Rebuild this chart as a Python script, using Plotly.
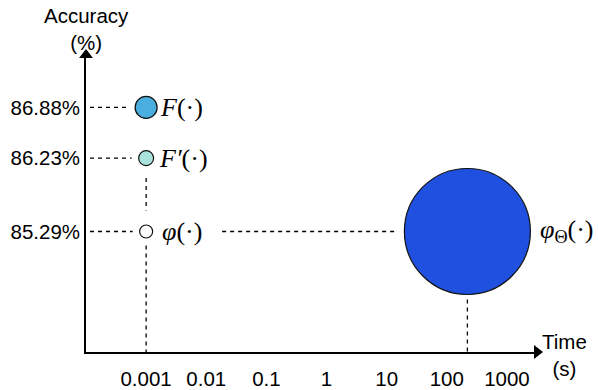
import numpy as np
import plotly.graph_objects as go

# ---- data ----
methods = ["F", "F'", "phi", "phi_Theta"]
method_labels = ["<i>F</i>(·)", "<i>F′</i>(·)", "<i>φ</i>(·)", "<i>φ</i><sub>Θ</sub>(·)"]
time_s = [0.001, 0.001, 0.001, 220]
accuracy = [86.88, 86.23, 85.29, 85.29]
x_tick_vals = [0.001, 0.01, 0.1, 1, 10, 100, 1000]
x_tick_text = ["0.001", "0.01", "0.1", "1", "10", "100", "1000"]
y_tick_vals = [86.88, 86.23, 85.29]
y_tick_text = ["86.88%", "86.23%", "85.29%"]

# ---- style ----
marker_size = [22, 15, 13, 126]
marker_color = ["#4aaee0", "#a8e4dc", "#ffffff", "#1f50e0"]
label_gap = [1, 3, 7, 8]

W, H = 598, 390
ML, MR, MT, MB = 86, 61, 55, 38
x_range = [-4.0, 3.5]
y_range = [83.746, 87.551]
pw = W - ML - MR
ph = H - MT - MB
px_dec = pw / (x_range[1] - x_range[0])
px_pct = ph / (y_range[1] - y_range[0])

def xs(v, dpx):
    return 10 ** (np.log10(v) + dpx / px_dec)

def ys(v, dpx):
    return v + dpx / px_pct

fig = go.Figure()
dash_style = dict(color="black", width=1.3, dash="4px,4px")

def guide(x, y):
    fig.add_trace(go.Scatter(x=x, y=y, mode="lines", line=dash_style,
                             hoverinfo="skip", showlegend=False))

x_axis_left = 10 ** x_range[0]
# horizontal guides from the y axis to the three small markers
for i in range(3):
    guide([xs(x_axis_left, 4), xs(time_s[i], -(marker_size[i] / 2 + 7))],
          [accuracy[i], accuracy[i]])
# vertical guide between F' and phi
guide([time_s[1], time_s[2]], [ys(accuracy[1], -20), ys(accuracy[2], 21)])
# vertical guide below phi
guide([time_s[2], time_s[2]], [ys(accuracy[2], -14), y_range[0]])
# horizontal guide from phi label to phi_Theta
guide([xs(time_s[2], 76), xs(time_s[3], -(marker_size[3] / 2 + 7))],
      [accuracy[2], accuracy[3]])
# vertical guide below phi_Theta
guide([time_s[3], time_s[3]], [ys(accuracy[3], -(marker_size[3] / 2 + 5)), y_range[0]])

fig.add_trace(go.Scatter(
    x=time_s, y=accuracy, mode="markers",
    marker=dict(size=marker_size, color=marker_color,
                line=dict(color="#111111", width=1.2), opacity=1),
    hoverinfo="skip", showlegend=False, cliponaxis=False))

# axis arrowheads at the ends of the axis ranges
fig.add_trace(go.Scatter(
    x=[10 ** x_range[1], 10 ** x_range[0]], y=[y_range[0], y_range[1]], mode="markers",
    marker=dict(symbol=["triangle-right", "triangle-up"], size=12, color="black",
                line=dict(width=0)),
    hoverinfo="skip", showlegend=False, cliponaxis=False))

for i in range(4):
    fig.add_annotation(x=np.log10(time_s[i]), y=accuracy[i], text=method_labels[i],
                       showarrow=False, xanchor="left", yanchor="middle",
                       xshift=marker_size[i] / 2 + label_gap[i],
                       font=dict(family="Liberation Serif", size=26, color="black"))

sans = dict(family="Liberation Sans", size=20.5, color="black")

# axis titles
fig.add_annotation(x=0, y=1, xref="paper", yref="paper", text="Accuracy<br>(%)",
                   showarrow=False, xanchor="center", yanchor="middle", yshift=26,
                   font=sans)
fig.add_annotation(x=1, y=0, xref="paper", yref="paper", text="Time<br>(s)",
                   showarrow=False, xanchor="left", yanchor="middle", xshift=3, yshift=-3,
                   font=sans)

fig.update_layout(
    width=W, height=H,
    margin=dict(l=ML, r=MR, t=MT, b=MB, autoexpand=False),
    paper_bgcolor="white", plot_bgcolor="white",
    xaxis=dict(type="log", range=x_range, tickvals=x_tick_vals, ticktext=x_tick_text,
               showgrid=False, zeroline=False, showline=True, linecolor="black",
               linewidth=1.6, ticks="", ticklabelstandoff=8, automargin=False,
               tickfont=sans),
    yaxis=dict(range=y_range, tickvals=y_tick_vals, ticktext=y_tick_text,
               showgrid=False, zeroline=False, showline=True, linecolor="black",
               linewidth=1.6, ticks="", ticklabelstandoff=0, automargin=False,
               tickfont=sans),
)

fig.write_html("out.html", post_script="document.body.style.margin='0px';",
               config={"displayModeBar": False})
